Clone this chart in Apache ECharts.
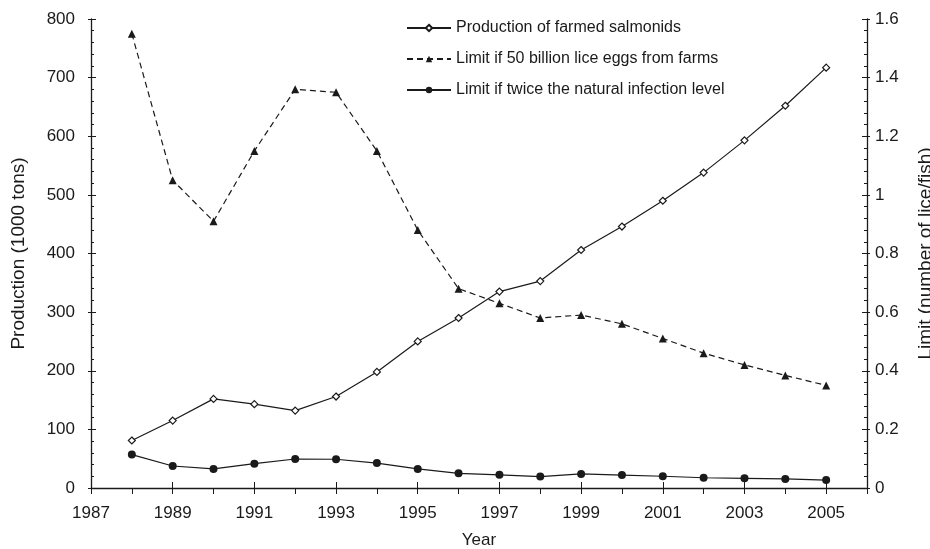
<!DOCTYPE html>
<html>
<head>
<meta charset="utf-8">
<script src="https://cdn.jsdelivr.net/npm/echarts@6/dist/echarts.min.js"></script>
<style>
  html, body { margin: 0; padding: 0; background: #fff; }
  #chart { width: 930px; height: 549px; }
</style>
</head>
<body>
<div id="chart"></div>
<script>
// years on the x axis
var years = [1988, 1989, 1990, 1991, 1992, 1993, 1994, 1995, 1996, 1997,
             1998, 1999, 2000, 2001, 2002, 2003, 2004, 2005];

// production of farmed salmonids (1000 tons), left axis
var production = [81, 115, 152, 143, 132, 156, 198, 250, 290, 335,
                  353, 406, 446, 490, 538, 593, 652, 717];

// limit if 50 billion lice eggs from farms (lice/fish), right axis
var limitEggs = [1.55, 1.05, 0.91, 1.15, 1.36, 1.35, 1.15, 0.88, 0.68, 0.63,
                 0.58, 0.59, 0.56, 0.51, 0.46, 0.42, 0.384, 0.35];

// limit if twice the natural infection level (lice/fish), right axis
var limitNatural = [0.114, 0.075, 0.065, 0.083, 0.099, 0.098, 0.085, 0.065, 0.050, 0.045,
                    0.039, 0.048, 0.044, 0.040, 0.035, 0.033, 0.031, 0.027];

var seriesNames = ['Production of farmed salmonids',
                   'Limit if 50 billion lice eggs from farms',
                   'Limit if twice the natural infection level'];

function pairs(xs, ys) {
    var out = [];
    for (var i = 0; i < xs.length; i++) out.push([xs[i], ys[i]]);
    return out;
}

var ink = '#1a1a1a';
var font = 'Liberation Sans, Arial, sans-serif';

var myChart = echarts.init(document.getElementById('chart'));

option = {
    backgroundColor: '#fff',
    animation: false,
    textStyle: { fontFamily: font, color: ink },
    grid: { left: 91, right: 63, top: 19, bottom: 61, containLabel: false, outerBoundsMode: 'none' },
    legend: {
        orient: 'vertical',
        left: 401,
        top: 15,
        itemWidth: 44,
        itemHeight: 8,
        itemGap: 15,
        data: seriesNames,
        textStyle: { fontSize: 16, color: ink, fontFamily: font }
    },
    xAxis: [
        {
            type: 'value',
            min: 1987,
            max: 2006,
            interval: 1,
            name: 'Year',
            nameLocation: 'middle',
            nameGap: 44,
            nameTextStyle: { fontSize: 17, color: ink },
            axisLine: { lineStyle: { color: ink, width: 1.3 } },
            axisTick: { show: true, inside: false, length: 6, lineStyle: { color: ink } },
            axisLabel: {
                fontSize: 17,
                color: ink,
                margin: 17,
                formatter: function (v) { return (v % 2 === 1 && v < 2006) ? String(v) : ''; }
            },
            splitLine: { show: false }
        },
        {
            type: 'value',
            position: 'bottom',
            min: 1987,
            max: 2006,
            interval: 2,
            axisLine: { show: false },
            axisTick: { show: true, inside: true, length: 6, lineStyle: { color: ink } },
            axisLabel: { show: false },
            splitLine: { show: false }
        }
    ],
    yAxis: [
        {
            type: 'value',
            position: 'left',
            min: 0,
            max: 800,
            interval: 100,
            name: 'Production (1000 tons)',
            nameLocation: 'middle',
            nameGap: 63,
            nameTextStyle: { fontSize: 19, color: ink },
            axisLine: { show: true, lineStyle: { color: ink, width: 1.3 } },
            axisTick: { show: true, inside: true, length: 5, lineStyle: { color: ink } },
            minorTick: { show: true, splitNumber: 5, length: 3, lineStyle: { color: ink } },
            axisLabel: { fontSize: 17, color: ink, margin: 16 },
            splitLine: { show: false },
            minorSplitLine: { show: false }
        },
        {
            type: 'value',
            position: 'right',
            min: 0,
            max: 1.6,
            interval: 0.2,
            name: 'Limit (number of lice/fish)',
            nameLocation: 'middle',
            nameGap: 49,
            nameRotate: 90,
            nameTextStyle: { fontSize: 19, color: ink },
            axisLine: { show: true, lineStyle: { color: ink, width: 1.3 } },
            axisTick: { show: true, inside: true, length: 5, lineStyle: { color: ink } },
            minorTick: { show: true, splitNumber: 5, length: 3, lineStyle: { color: ink } },
            axisLabel: { fontSize: 17, color: ink, margin: 8 },
            splitLine: { show: false },
            minorSplitLine: { show: false }
        },
        {
            type: 'value',
            position: 'left',
            min: 0,
            max: 800,
            interval: 100,
            axisLine: { show: false },
            axisTick: { show: true, inside: false, length: 3, lineStyle: { color: ink } },
            axisLabel: { show: false },
            splitLine: { show: false }
        },
        {
            type: 'value',
            position: 'right',
            min: 0,
            max: 1.6,
            interval: 0.2,
            axisLine: { show: false },
            axisTick: { show: true, inside: false, length: 3, lineStyle: { color: ink } },
            axisLabel: { show: false },
            splitLine: { show: false }
        }
    ],
    series: [
        {
            name: seriesNames[0],
            type: 'line',
            xAxisIndex: 0,
            yAxisIndex: 0,
            data: pairs(years, production),
            symbol: 'diamond',
            symbolSize: 7,
            itemStyle: { color: '#fff', borderColor: ink, borderWidth: 1.2 },
            lineStyle: { color: ink, width: 1.2 }
        },
        {
            name: seriesNames[1],
            type: 'line',
            xAxisIndex: 0,
            yAxisIndex: 1,
            data: pairs(years, limitEggs),
            symbol: 'triangle',
            symbolSize: 8,
            itemStyle: { color: ink },
            lineStyle: { color: ink, width: 1.2, type: [6, 4] }
        },
        {
            name: seriesNames[2],
            type: 'line',
            xAxisIndex: 0,
            yAxisIndex: 1,
            data: pairs(years, limitNatural),
            symbol: 'circle',
            symbolSize: 8,
            itemStyle: { color: ink },
            lineStyle: { color: ink, width: 1.2 }
        }
    ]
};

myChart.setOption(option);
</script>
</body>
</html>
